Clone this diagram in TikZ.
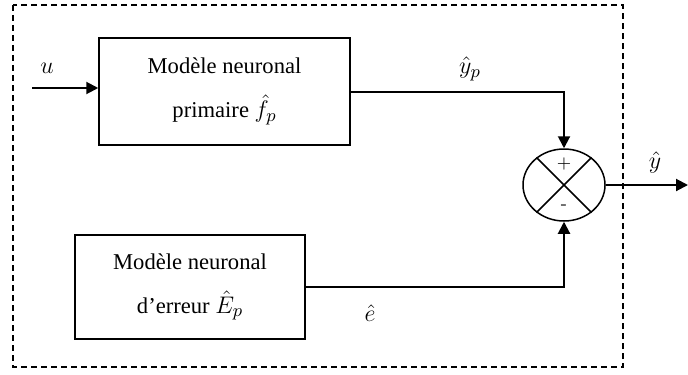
\documentclass[tikz,border=0pt]{standalone}
\usepackage{fontspec}
\setmainfont{Liberation Serif}
\usepackage{tikz}
\usetikzlibrary{arrows.meta,shapes.geometric}

\tikzset{
  modbox/.style={draw,line width=0.75pt,inner sep=0pt,align=center,
    font=\fontsize{11.3}{22}\selectfont},
  sig/.style={line width=1pt,-{Triangle[length=6pt,width=6pt]}},
  lbl/.style={font=\fontsize{13}{14}\selectfont}
}

\begin{document}
\begin{tikzpicture}[x=0.5pt,y=-0.5pt]
\useasboundingbox (0,0) rectangle (688,374);
% outer frame
\draw[line width=0.75pt,dash pattern=on 3pt off 2pt] (13,5) rectangle (623,367);
% blocks
\node[modbox,minimum width=125.5pt,minimum height=53.5pt] (prim) at (224.5,91.5)
  {Modèle neuronal\\primaire {\fontsize{12.5}{13}\selectfont$\hat{f}_p$}};
\node[modbox,minimum width=115pt,minimum height=52pt] (err) at (190,287)
  {Modèle neuronal\\d’erreur {\fontsize{12.5}{13}\selectfont$\hat{E}_p$}};
% summing junction
\node[draw,ellipse,line width=0.75pt,minimum width=41pt,minimum height=36pt,inner sep=0pt] (sum) at (564,185) {};
\draw[line width=0.75pt] (sum.45) -- (sum.225) (sum.135) -- (sum.315);
\node[font=\sffamily\fontsize{9}{10}\selectfont] (plus) at (564,164) {+};
\node[font=\sffamily\fontsize{9}{10}\selectfont] (minus) at (564,207) {-};
% signals
\coordinate (uin) at (32,88);
\coordinate (yout) at (688,185);
\draw[sig] (uin) -- (uin -| prim.west);
\draw[sig] (prim.east) -| (sum.north);
\draw[sig] (err.east) -| (sum.south);
\draw[sig] (sum.east) -- (yout);
% labels
\node[lbl] (lu) at (47,68) {$u$};
\node[lbl] (lyp) at (470,69) {$\hat{y}_p$};
\node[lbl] (ly) at (655,162) {$\hat{y}$};
\node[lbl] (le) at (370,313) {$\hat{e}$};
\end{tikzpicture}
\end{document}
